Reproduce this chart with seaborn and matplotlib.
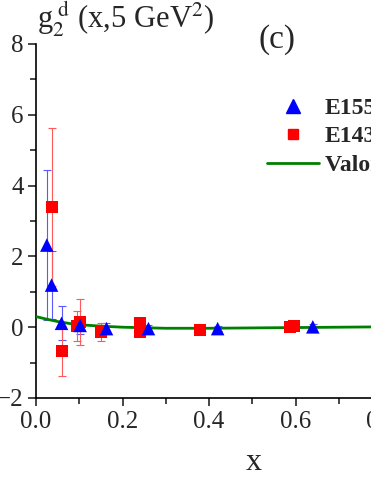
import matplotlib
matplotlib.use("Agg")
import matplotlib.pyplot as plt
from matplotlib.lines import Line2D
from matplotlib.ticker import MultipleLocator
import numpy as np
import seaborn as sns

# E155 deuteron g2 (blue triangles)
e155_x = [0.025, 0.036, 0.059, 0.102, 0.163, 0.26, 0.42, 0.64]
e155_y = [2.32, 1.19, 0.11, 0.05, -0.04, -0.04, -0.04, 0.01]
e155_err = [2.12, 0.97, 0.48, 0.25, 0.15, 0.1, 0.08, 0.08]

# E143 deuteron g2 (red squares)
e143_x = [0.036, 0.059, 0.0955, 0.102, 0.15, 0.24, 0.24, 0.38, 0.587, 0.597]
e143_y = [3.40, -0.67, 0.03, 0.15, -0.13, 0.11, -0.13, -0.08, 0.01, 0.03]
e143_err = [2.23, 0.71, 0.42, 0.65, 0.25, 0.15, 0.12, 0.08, 0.06, 0.06]

# Valon model curve
valon_x = [0.0, 0.02, 0.05, 0.08, 0.1, 0.15, 0.2, 0.3, 0.4, 0.5, 0.6, 0.7, 0.8, 0.9]
valon_y = [0.30, 0.24, 0.16, 0.10, 0.07, 0.03, 0.0, -0.03, -0.03, -0.02, -0.01, 0.0, 0.01, 0.01]

sns.set_style("ticks")
plt.rcParams["font.family"] = ["Liberation Serif", "DejaVu Serif"]
plt.rcParams["mathtext.fontset"] = "stix"

fig = plt.figure(figsize=(3.71, 4.8), dpi=100)
ax = fig.add_axes([36 / 371, 82 / 480, 432.5 * 1.0 / 371, 354 / 480])

ax.errorbar(e155_x, e155_y, yerr=e155_err, fmt="none", ecolor="#5a5aff",
            elinewidth=0.8, capsize=3, capthick=0.8, zorder=2)
ax.errorbar(e143_x, e143_y, yerr=e143_err, fmt="none", ecolor="#ff5a5a",
            elinewidth=0.8, capsize=3, capthick=0.8, zorder=2)

sns.lineplot(x=valon_x, y=valon_y, color="#008000", linewidth=2, ax=ax, zorder=3)
sns.scatterplot(x=e143_x, y=e143_y, marker="s", s=75, color="#ff0000",
                edgecolor="none", ax=ax, zorder=4)
sns.scatterplot(x=e155_x, y=e155_y, marker="^", s=95, color="#0000ff",
                edgecolor="none", ax=ax, zorder=5)

ax.set_xlim(0, 1.0)
ax.set_ylim(-2, 8)
ax.xaxis.set_major_locator(MultipleLocator(0.2))
ax.xaxis.set_minor_locator(MultipleLocator(0.1))
ax.yaxis.set_major_locator(MultipleLocator(2))
ax.yaxis.set_minor_locator(MultipleLocator(1))
ax.set_xticklabels([f"{v:.1f}" for v in ax.get_xticks()])
ax.tick_params(which="major", direction="out", length=6, width=1.2, labelsize=18, pad=3)
ax.tick_params(which="minor", direction="out", length=4, width=1.2)
for side in ["top", "right"]:
    ax.spines[side].set_visible(False)
for side in ["left", "bottom"]:
    ax.spines[side].set_linewidth(1.2)
    ax.spines[side].set_color("black")

ax.set_xlabel("x", fontsize=23)
ax.xaxis.set_label_coords((254 - 36) / 432.5, -0.14)

fig.text(37 / 371, 1 - 28 / 480, r"g$_2^{\ \mathrm{d}}$ (x,5 GeV$^2$)", fontsize=22)
fig.text(258 / 371, 1 - 40 / 480, "(c)", fontsize=24, va="center")

handles = [
    Line2D([], [], marker="^", color="#0000ff", linestyle="none", markersize=10),
    Line2D([], [], marker="s", color="#ff0000", linestyle="none", markersize=7),
    Line2D([], [], color="#008000", linewidth=2),
]
leg = ax.legend(handles, ["E155", "E143", "Valon model"], loc="upper left",
                bbox_to_anchor=(246 / 371, 1 - 76 / 480), bbox_transform=fig.transFigure,
                frameon=False, handlelength=2.2, handletextpad=0.25, labelspacing=0.3,
                prop={"weight": "bold", "size": 17})

fig.savefig("out.png", dpi=100)
